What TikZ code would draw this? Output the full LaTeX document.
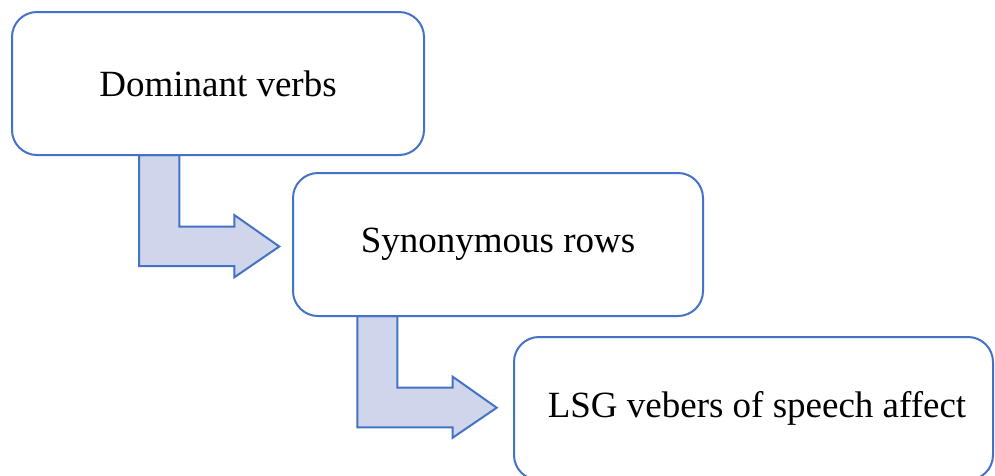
\documentclass[tikz,border=0pt]{standalone}
\usepackage{fontspec}
\setmainfont{Liberation Serif}
\definecolor{edge}{HTML}{4472C4}
\definecolor{arrowfill}{HTML}{CFD5EA}
\begin{document}
\begin{tikzpicture}[x=1pt,y=-1pt,
  box/.style={draw=edge,line width=2pt,rounded corners=25pt,fill=white,inner sep=0pt,font=\fontsize{37}{44}\selectfont},
  bent/.style={draw=edge,line width=2pt,fill=arrowfill,line join=miter}]
\useasboundingbox (0,0) rectangle (995,475);
% bent arrows
\draw[bent] (139,155) -- (179.3,155) -- (179.3,226.7) -- (234.3,226.7) -- (234.3,215) -- (279.3,246.5) -- (234.3,277.3) -- (234.3,266) -- (139,266) -- cycle;
\draw[bent] (357.3,316) -- (397.3,316) -- (397.3,387.7) -- (452.7,387.7) -- (452.7,376.7) -- (496.7,407.7) -- (452.7,437.7) -- (452.7,427.3) -- (357.3,427.3) -- cycle;
% boxes
\node[box,minimum width=412pt,minimum height=143pt] (b1) at (218,83.5) {Dominant verbs};
\node[box,minimum width=410pt,minimum height=143pt] (b2) at (498,244.5) {Synonymous rows};
\node[box,minimum width=479pt,minimum height=143pt] (b3) at (753.5,408.5) {};
\node[font=\fontsize{37}{44}\selectfont,inner sep=0pt] (t3) at (757,408.5) {LSG vebers of speech affect};
\end{tikzpicture}
\end{document}
